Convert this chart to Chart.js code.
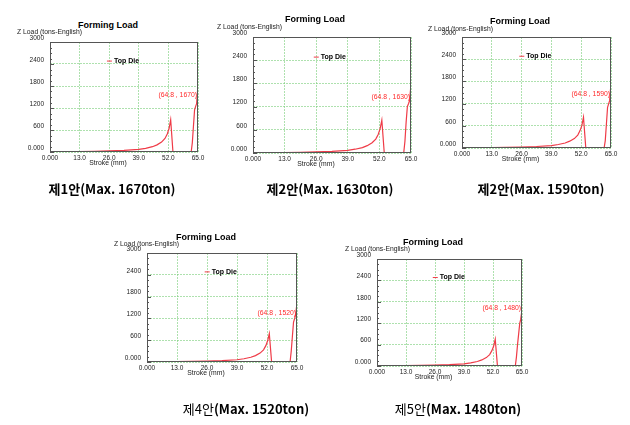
<!DOCTYPE html>
<html>
<head>
<meta charset="utf-8">
<script src="https://cdn.jsdelivr.net/npm/chart.js@4"></script>
<style>
  body { margin: 0; width: 630px; height: 425px; background: #fff; position: relative; overflow: hidden;
         font-family: "Liberation Sans", Arial, sans-serif; }
  canvas { position: absolute; }
  .t { position: absolute; white-space: nowrap; color: #000; line-height: 1; }
  .title { font-weight: bold; font-size: 9px; transform: translate(-50%, -50%); }
  .zlab { font-size: 6.8px; color: #222; transform: translateY(-50%); }
  .xlab { font-size: 6.8px; color: #222; transform: translate(-50%, -50%); }
  .cap { font-family: "Noto Sans CJK KR", sans-serif; font-weight: bold; font-size: 13px; transform: translate(-50%, -50%); }
  .cap .n { font-weight: normal; }
</style>
</head>
<body>
<script>
// stroke positions shared by every case (mm)
const strokeMm = [0, 6.5, 13, 19.5, 26, 32.5, 39, 42, 45, 47, 49, 50.5, 51.5, 52.3, 53.0, 54.0, 58.0, 62.0, 62.5, 63.0, 63.5, 64.0, 64.4, 64.8, 65.0];

// top die load per case (tons)
const loadCase1 = [5, 8, 12, 18, 28, 42, 70, 100, 145, 195, 270, 370, 490, 640, 880, 0, 0, 0, 250, 700, 1150, 1250, 1320, 1670, 1670];
const loadCase2 = [5, 8, 12, 18, 28, 42, 68, 98, 140, 190, 265, 360, 480, 630, 850, 0, 0, 0, 300, 800, 1200, 1280, 1350, 1630, 1630];
const loadCase3 = [5, 8, 12, 17, 26, 40, 65, 95, 135, 185, 255, 350, 470, 610, 830, 0, 0, 0, 200, 650, 1100, 1200, 1280, 1590, 1590];
const loadCase4 = [5, 8, 11, 16, 25, 38, 62, 90, 130, 175, 245, 335, 450, 590, 780, 0, 0, 0, 300, 700, 1100, 1200, 1300, 1520, 1520];
const loadCase5 = [5, 8, 11, 16, 24, 36, 60, 86, 125, 170, 235, 320, 430, 560, 750, 0, 0, 0, 250, 600, 900, 1200, 1300, 1480, 1480];

const caseNames = ['제1안', '제2안', '제2안', '제4안', '제5안'];
const maxLoads = [1670, 1630, 1590, 1520, 1480];
const maxStroke = 64.8;
const xTicks = [0, 13, 26, 39, 52, 65];
const yTicks = [0, 600, 1200, 1800, 2400, 3000];

const loads = [loadCase1, loadCase2, loadCase3, loadCase4, loadCase5];

// plot boxes and text anchors in page pixels
const panels = [
  { l: 50,  t: 42,  r: 198, b: 152, tx: 108, ty: 25,  zx: 17,  zy: 32,  cx: 112, cy: 188, noteY: 1550 },
  { l: 253, t: 37,  r: 411, b: 153, tx: 315, ty: 19,  zx: 217, zy: 27,  cx: 330, cy: 188, noteY: 1450 },
  { l: 462, t: 37,  r: 611, b: 148, tx: 520, ty: 21,  zx: 428, zy: 29,  cx: 541, cy: 188, noteY: 1460 },
  { l: 147, t: 253, r: 297, b: 362, tx: 206, ty: 237, zx: 114, zy: 244, cx: 246, cy: 408, noteY: 1350 },
  { l: 377, t: 259, r: 522, b: 366, tx: 433, ty: 242, zx: 345, zy: 249, cx: 458, cy: 408, noteY: 1620 }
];

const lineRed = '#ef3b47';
const gridGreen = 'rgba(120, 205, 120, 0.6)';
const Y_W = 36, X_H = 22, PAD_T = 10, PAD_R = 10;

// frame, minor ticks, legend and max label
const extrasPlugin = {
  id: 'extras',
  afterDatasetsDraw(chart, args, opts) {
    const { ctx, chartArea: a, scales: { x, y } } = chart;
    ctx.save();
    ctx.strokeStyle = '#555';
    ctx.lineWidth = 1;
    ctx.strokeRect(Math.round(a.left) + 0.5, Math.round(a.top) + 0.5, Math.round(a.width) - 1, Math.round(a.height) - 1);

    ctx.beginPath();
    for (let v = 0; v <= 3000; v += 150) {
      const py = Math.round(y.getPixelForValue(v)) + 0.5;
      const len = v % 600 === 0 ? 4 : 2;
      ctx.moveTo(a.left, py);
      ctx.lineTo(a.left + len, py);
    }
    ctx.stroke();

    // legend entry
    const lx = x.getPixelForValue(25), ly = y.getPixelForValue(2480);
    ctx.strokeStyle = lineRed;
    ctx.beginPath();
    ctx.moveTo(lx, ly);
    ctx.lineTo(lx + 5, ly);
    ctx.stroke();
    ctx.fillStyle = '#000';
    ctx.font = 'bold 7px "Liberation Sans"';
    ctx.textBaseline = 'middle';
    ctx.fillText('Top Die', lx + 7, ly);

    // max load note
    ctx.fillStyle = '#ff2a2a';
    ctx.font = '6.8px "Liberation Sans"';
    ctx.textAlign = 'right';
    ctx.fillText('(' + maxStroke + ' , ' + opts.maxLoad + ')', a.right - 1, y.getPixelForValue(opts.noteY));
    ctx.restore();
  }
};

function addText(cls, x, y, html) {
  const d = document.createElement('div');
  d.className = 't ' + cls;
  d.style.left = x + 'px';
  d.style.top = y + 'px';
  d.innerHTML = html;
  document.body.appendChild(d);
}

panels.forEach((p, i) => {
  const cv = document.createElement('canvas');
  const w = (p.r - p.l) + Y_W + PAD_R;
  const h = (p.b - p.t) + PAD_T + X_H;
  cv.width = w; cv.height = h;
  cv.style.left = (p.l - Y_W) + 'px';
  cv.style.top = (p.t - PAD_T) + 'px';
  cv.style.width = w + 'px';
  cv.style.height = h + 'px';
  document.body.appendChild(cv);

  new Chart(cv, {
    type: 'line',
    data: {
      datasets: [{
        label: 'Top Die',
        data: strokeMm.map((s, k) => ({ x: s, y: loads[i][k] })),
        borderColor: lineRed,
        borderWidth: 1.2,
        pointRadius: 0,
        tension: 0
      }]
    },
    options: {
      responsive: false,
      animation: false,
      devicePixelRatio: 1,
      layout: { padding: { top: PAD_T, right: PAD_R, left: 0, bottom: 0 } },
      plugins: {
        legend: { display: false },
        tooltip: { enabled: false },
        extras: { maxLoad: maxLoads[i], noteY: p.noteY }
      },
      scales: {
        x: {
          type: 'linear', min: 0, max: 65,
          afterFit(s) { s.height = X_H; },
          afterBuildTicks(s) { s.ticks = xTicks.map(v => ({ value: v })); },
          ticks: {
            callback: v => v === 0 ? '0.000' : v.toFixed(1),
            font: { size: 6.5, family: 'Liberation Sans' }, color: '#222',
            padding: 2, maxRotation: 0, autoSkip: false
          },
          grid: { color: gridGreen, drawTicks: false },
          border: { display: false, dash: [2, 1] }
        },
        y: {
          min: 0, max: 3000,
          afterFit(s) { s.width = Y_W; },
          afterBuildTicks(s) { s.ticks = yTicks.map(v => ({ value: v })); },
          ticks: {
            callback: v => v === 0 ? '0.000' : String(v),
            font: { size: 6.5, family: 'Liberation Sans' }, color: '#222',
            padding: 6, labelOffset: -4
          },
          grid: { color: gridGreen, drawTicks: false },
          border: { display: false, dash: [2, 1] }
        }
      }
    },
    plugins: [extrasPlugin]
  });

  addText('title', p.tx, p.ty, 'Forming Load');
  addText('zlab', p.zx, p.zy, 'Z Load (tons-English)');
  addText('xlab', (p.l + p.r) / 2 - 16, p.b + 11, 'Stroke (mm)');
  const nameCls = i >= 3 ? ' class="n"' : '';
  addText('cap', p.cx, p.cy, '<span' + nameCls + '>' + caseNames[i] + '</span>(Max. ' + maxLoads[i] + 'ton)');
});
</script>
</body>
</html>
